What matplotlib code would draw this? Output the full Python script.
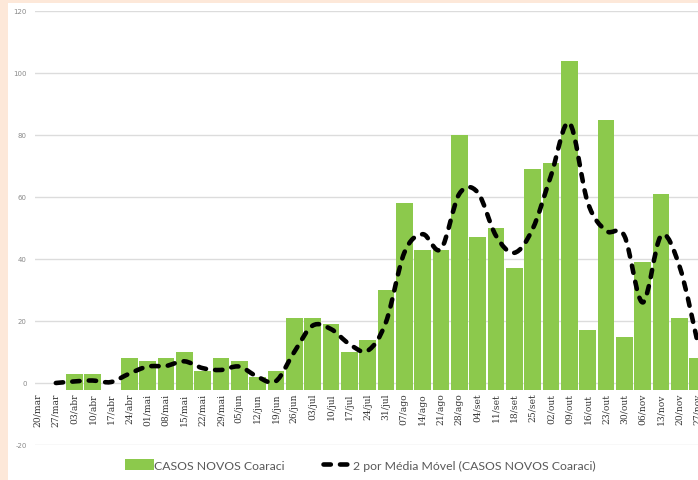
import numpy as np
import matplotlib
matplotlib.use("Agg")
import matplotlib.pyplot as plt
from matplotlib.path import Path
from matplotlib.patches import PathPatch, Rectangle, Patch
from matplotlib.lines import Line2D

plt.rcParams['axes.unicode_minus'] = False

# ---------------- data ----------------
categories = ["20/mar", "27/mar", "03/abr", "10/abr", "17/abr", "24/abr", "01/mai",
              "08/mai", "15/mai", "22/mai", "29/mai", "05/jun", "12/jun", "19/jun",
              "26/jun", "03/jul", "10/jul", "17/jul", "24/jul", "31/jul", "07/ago",
              "14/ago", "21/ago", "28/ago", "04/set", "11/set", "18/set", "25/set",
              "02/out", "09/out", "16/out", "23/out", "30/out", "06/nov", "13/nov",
              "20/nov", "27/nov"]
casos_novos = [0, 0, 3, 3, 0, 8, 7, 8, 10, 4, 8, 7, 2, 4, 21, 21, 19, 10, 14, 30,
               58, 43, 43, 80, 47, 50, 37, 69, 71, 104, 17, 85, 15, 39, 61, 21, 8]
media_movel = [None, 0, 0.5, 0.8, 0.3, 3, 5.3, 5.5, 7, 4.8, 4.2, 5.3, 2, 0.6,
               10, 18.5, 17.4, 12.6, 10.4, 19.6, 42, 48, 43.2, 61, 61.5, 47.5,
               42, 49.7, 66.9, 83.9, 58.3, 49.1, 47.5, 26, 47.5, 37.8, 13]
yticks = [-20, 0, 20, 40, 60, 80, 100, 120]
label_bar = "CASOS NOVOS Coaraci"
label_line = "2 por Média Móvel (CASOS NOVOS Coaraci)"

# ---------------- style ----------------
W, H = 698, 481
GREEN = "#8cc94c"
PEACH = "#fde8d9"
GRID = "#dcdcdc"
BASE = -2.2          # category axis crossing (bars start here)

fig = plt.figure(figsize=(W / 100, H / 100), dpi=100)
fig.patch.set_facecolor("white")
fig.patches.append(Rectangle((0, 0), 8 / W, 1, transform=fig.transFigure,
                             facecolor=PEACH, edgecolor="none", zorder=-5))
fig.patches.append(Rectangle((0, 1 - 4 / H), 1, 4 / H, transform=fig.transFigure,
                             facecolor=PEACH, edgecolor="none", zorder=-5))

ax = fig.add_axes([35 / W, (H - 446) / H, 1 - 35 / W, (446 - 12) / H])
ax.set_facecolor("none")
for s in ax.spines.values():
    s.set_visible(False)
ax.spines["bottom"].set_position(("data", BASE))

x = np.arange(len(categories))
vals = np.array(casos_novos, dtype=float)
heights = np.where(vals > 0, vals - BASE, 0)
ax.bar(x, heights, bottom=BASE, width=0.91, color=GREEN, edgecolor="none", zorder=2)

# smoothed moving-average line (Catmull-Rom -> cubic Bezier)
pts = [(i, v) for i, v in enumerate(media_movel) if v is not None]
P = np.array(pts, dtype=float)
verts = [tuple(P[0])]
codes = [Path.MOVETO]
n = len(P)
for i in range(n - 1):
    p0 = P[i - 1] if i > 0 else P[i]
    p1 = P[i]
    p2 = P[i + 1]
    p3 = P[i + 2] if i + 2 < n else P[i + 1]
    c1 = p1 + (p2 - p0) / 6.0
    c2 = p2 - (p3 - p1) / 6.0
    verts += [tuple(c1), tuple(c2), tuple(p2)]
    codes += [Path.CURVE4] * 3
LW = 3.3
DASH = (0, (1.6, 2.0))
path_patch = PathPatch(Path(verts, codes), facecolor="none", edgecolor="black",
                       lw=LW, linestyle=DASH, capstyle="round", joinstyle="round",
                       transform=ax.transData, zorder=3)
ax.add_patch(path_patch)

ax.set_xlim(-0.136, 36.016)
ax.set_ylim(-20, 120)
ax.set_yticks(yticks)
ax.set_yticklabels([str(t) for t in yticks])
ax.set_xticks(x)
ax.set_xticklabels(categories)
for t in ax.get_xticklabels():
    t.set_rotation(90)
    t.set_family("DejaVu Serif")
    t.set_fontsize(6.6)
    t.set_color("#363636")
ax.tick_params(axis="x", length=0, pad=2)
ax.tick_params(axis="y", length=0, pad=6, labelsize=5, labelcolor="#8a8a8a")
ax.yaxis.grid(True, color=GRID, lw=1.0)
ax.xaxis.grid(False)
ax.set_axisbelow(True)

# legend
h_bar = Patch(facecolor=GREEN, edgecolor="none")
h_line = Line2D([], [], color="black", lw=LW, linestyle=DASH,
                dash_capstyle="round")
leg = fig.legend([h_bar, h_line], [label_bar, label_line], loc="center",
                 bbox_to_anchor=(360 / W, 1 - 466 / H), ncol=2, frameon=False,
                 handlelength=2.4, handleheight=1.05, handletextpad=0.0,
                 columnspacing=3.2, prop={"family": "Lato", "size": 8.8})
for t in leg.get_texts():
    t.set_color("#595959")

fig.savefig("out.png", dpi=100)
